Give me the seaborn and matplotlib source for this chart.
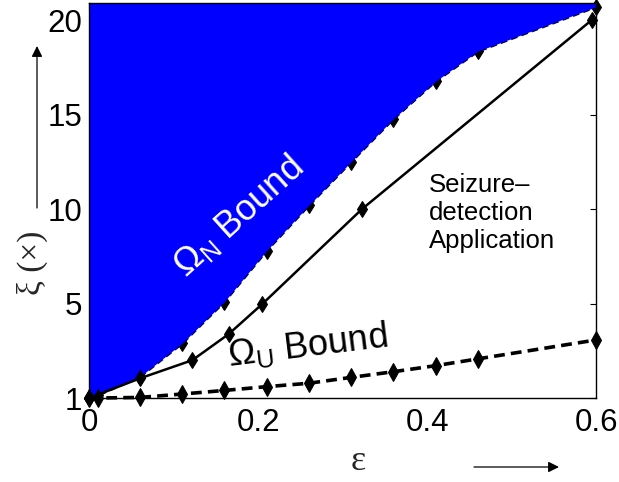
import numpy as np
import pandas as pd
import matplotlib
matplotlib.use("Agg")
import matplotlib.pyplot as plt
import seaborn as sns

# Energy-quality trade-off curves (epsilon vs. xi)
eps_bounds = [0.0, 0.01, 0.06, 0.11, 0.16, 0.21, 0.26, 0.31, 0.36, 0.41, 0.46, 0.60]
omega_n = [0.0, 0.15, 1.13, 2.9, 5.1, 7.8, 10.2, 12.5, 14.77, 16.76, 18.35, 20.7]
omega_u = [0.0, 0.0, 0.03, 0.21, 0.40, 0.60, 0.78, 1.09, 1.39, 1.71, 2.07, 3.07]

eps_app = [0.0, 0.06, 0.122, 0.165, 0.205, 0.323, 0.595]
xi_app = [0.0, 1.04, 2.0, 3.38, 4.98, 10.0, 20.0]

y_ticks = [0, 5, 10, 15, 20]
y_tick_labels = ["1", "5", "10", "15", "20"]
x_ticks = [0, 0.2, 0.4, 0.6]
x_tick_labels = ["0", "0.2", "0.4", "0.6"]

Y_TOP = 20.9

sns.set_style("white")
plt.rcParams["font.family"] = ["Liberation Sans", "DejaVu Sans"]
plt.rcParams["mathtext.fontset"] = "custom"
plt.rcParams["mathtext.rm"] = "Liberation Sans"
plt.rcParams["mathtext.it"] = "Liberation Sans:italic"

W, H = 619, 482
fig = plt.figure(figsize=(W / 100, H / 100), dpi=100)
ax = fig.add_axes([89.3 / W, 1 - 398 / H, (596 - 89.3) / W, (398 - 3) / H])

# upper bound line (partially covered by the shaded infeasible region)
sns.lineplot(x=eps_bounds, y=omega_n, ax=ax, color="black", lw=2.2,
             marker="d", markersize=8, markeredgecolor="black",
             clip_on=False, zorder=1.2)
ax.lines[-1].set_dashes([2.2, 1.4])

# shaded region above the Omega_N bound
ax.fill_between(eps_bounds, omega_n, Y_TOP, color="#0000ff", lw=0, zorder=1.5)

# application curve
sns.lineplot(x=eps_app, y=xi_app, ax=ax, color="black", lw=1.8,
             marker="d", markersize=8, markeredgecolor="black",
             clip_on=False, zorder=3)

# lower bound line
sns.lineplot(x=eps_bounds, y=omega_u, ax=ax, color="black", lw=2.6,
             marker="d", markersize=9, markeredgecolor="black",
             clip_on=False, zorder=3)
ax.lines[-1].set_dashes([3.0, 1.7])

ax.set_xlim(0, 0.6)
ax.set_ylim(0, Y_TOP)
ax.set_xticks(x_ticks)
ax.set_xticklabels(x_tick_labels)
ax.set_yticks(y_ticks)
ax.set_yticklabels(y_tick_labels)
ax.tick_params(axis="both", direction="in", length=4.5, width=0.8,
               labelsize=22.5, top=True, right=True, colors="black")
ax.tick_params(axis="x", pad=7)
ax.tick_params(axis="y", pad=5)
for s in ax.spines.values():
    s.set_visible(True)
    s.set_color("black")
    s.set_linewidth(1.0)
    s.set_zorder(4)
ax.set_xlabel("")
ax.set_ylabel("")

# annotations inside the plot
ax.text(0.176, 9.6, "\u03a9$_\\mathrm{N}$ Bound", color="white", fontsize=26,
        rotation=42, ha="center", va="center", rotation_mode="anchor", zorder=5)
ax.text(0.258, 2.75, "\u03a9$_\\mathrm{U}$ Bound", color="black", fontsize=26,
        rotation=7, ha="center", va="center", rotation_mode="anchor", zorder=5)
ax.text(0.402, 9.8, "Seizure\u2013\ndetection\nApplication", color="black",
        fontsize=18.5, ha="left", va="center", linespacing=1.22, zorder=5)

# axis labels with direction arrows
fig.text(32 / W, 1 - 263 / H, "\u03be (\u00d7)", rotation=90, ha="center",
         va="center", fontsize=24, family=["Liberation Serif", "DejaVu Serif"])
fig.text(358 / W, 1 - 462 / H, "\u03b5", ha="center", va="center",
         fontsize=26, family=["Liberation Serif", "DejaVu Serif"])
ax.annotate("", xy=(37, H - 46), xytext=(37, H - 208), xycoords="figure pixels",
            textcoords="figure pixels",
            arrowprops=dict(arrowstyle="-|>", lw=0.9, color="black",
                            mutation_scale=16, shrinkA=0, shrinkB=0))
ax.annotate("", xy=(559, H - 467), xytext=(474, H - 467), xycoords="figure pixels",
            textcoords="figure pixels",
            arrowprops=dict(arrowstyle="-|>", lw=0.9, color="black",
                            mutation_scale=16, shrinkA=0, shrinkB=0))

fig.savefig("out.png", dpi=100)
